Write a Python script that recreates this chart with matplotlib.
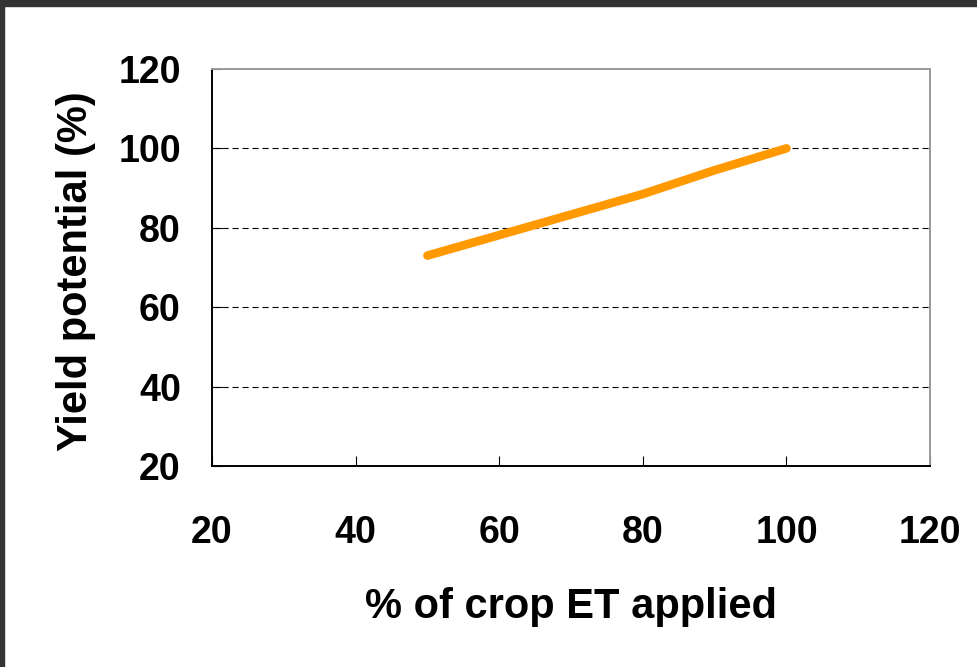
import matplotlib.pyplot as plt
from matplotlib.patches import Rectangle

plt.rcParams.update({
    "font.family": ["Liberation Sans", "DejaVu Sans"],
    "font.weight": "bold",
})

# Irrigation response: share of crop ET applied vs. yield potential
et_applied = [50, 80, 90, 100]
yield_potential = [73, 88.5, 94.5, 100]

x_ticks = [20, 40, 60, 80, 100, 120]
y_ticks = [20, 40, 60, 80, 100, 120]
grid_levels = [40, 60, 80, 100]

fig = plt.figure(figsize=(9.78, 6.67), dpi=100)
ax = fig.add_axes([0.2168, 0.3013, 0.7342, 0.5953])

for lvl in grid_levels:
    ax.axhline(lvl, color="black", linewidth=0.8, dashes=(5.5, 3.5), zorder=1)

ax.plot(et_applied, yield_potential, color="#FF9900", linewidth=6.2,
        solid_capstyle="round", solid_joinstyle="round", zorder=3)

ax.set_xlim(20, 120)
ax.set_ylim(20, 120)
ax.set_xticks(x_ticks)
ax.set_yticks(y_ticks)
ax.tick_params(axis="both", direction="in", length=7, width=0.8,
               labelsize=27)
ax.tick_params(axis="x", pad=35)
ax.tick_params(axis="y", pad=22.5)
for lab in ax.get_xticklabels() + ax.get_yticklabels():
    lab.set_fontweight("bold")

for side in ("left", "bottom"):
    ax.spines[side].set_color("black")
    ax.spines[side].set_linewidth(1.4)
for side in ("top", "right"):
    ax.spines[side].set_color("#9a9a9a")
    ax.spines[side].set_linewidth(1.4)

ax.set_xlabel("% of crop ET applied", fontsize=30, fontweight="bold")
ax.set_ylabel("Yield potential (%)", fontsize=30, fontweight="bold")
ax.xaxis.set_label_coords(0.5, -0.305)
ax.yaxis.set_label_coords(-0.162, 0.49)

# dark frame along the top and left edges
fig.patches.append(Rectangle((0, 1 - 6 / 667), 1, 6 / 667,
                             transform=fig.transFigure, color="#333333",
                             zorder=10))
fig.patches.append(Rectangle((0, 0), 4 / 978, 1,
                             transform=fig.transFigure, color="#333333",
                             zorder=10))

fig.savefig("out.png", dpi=100)
